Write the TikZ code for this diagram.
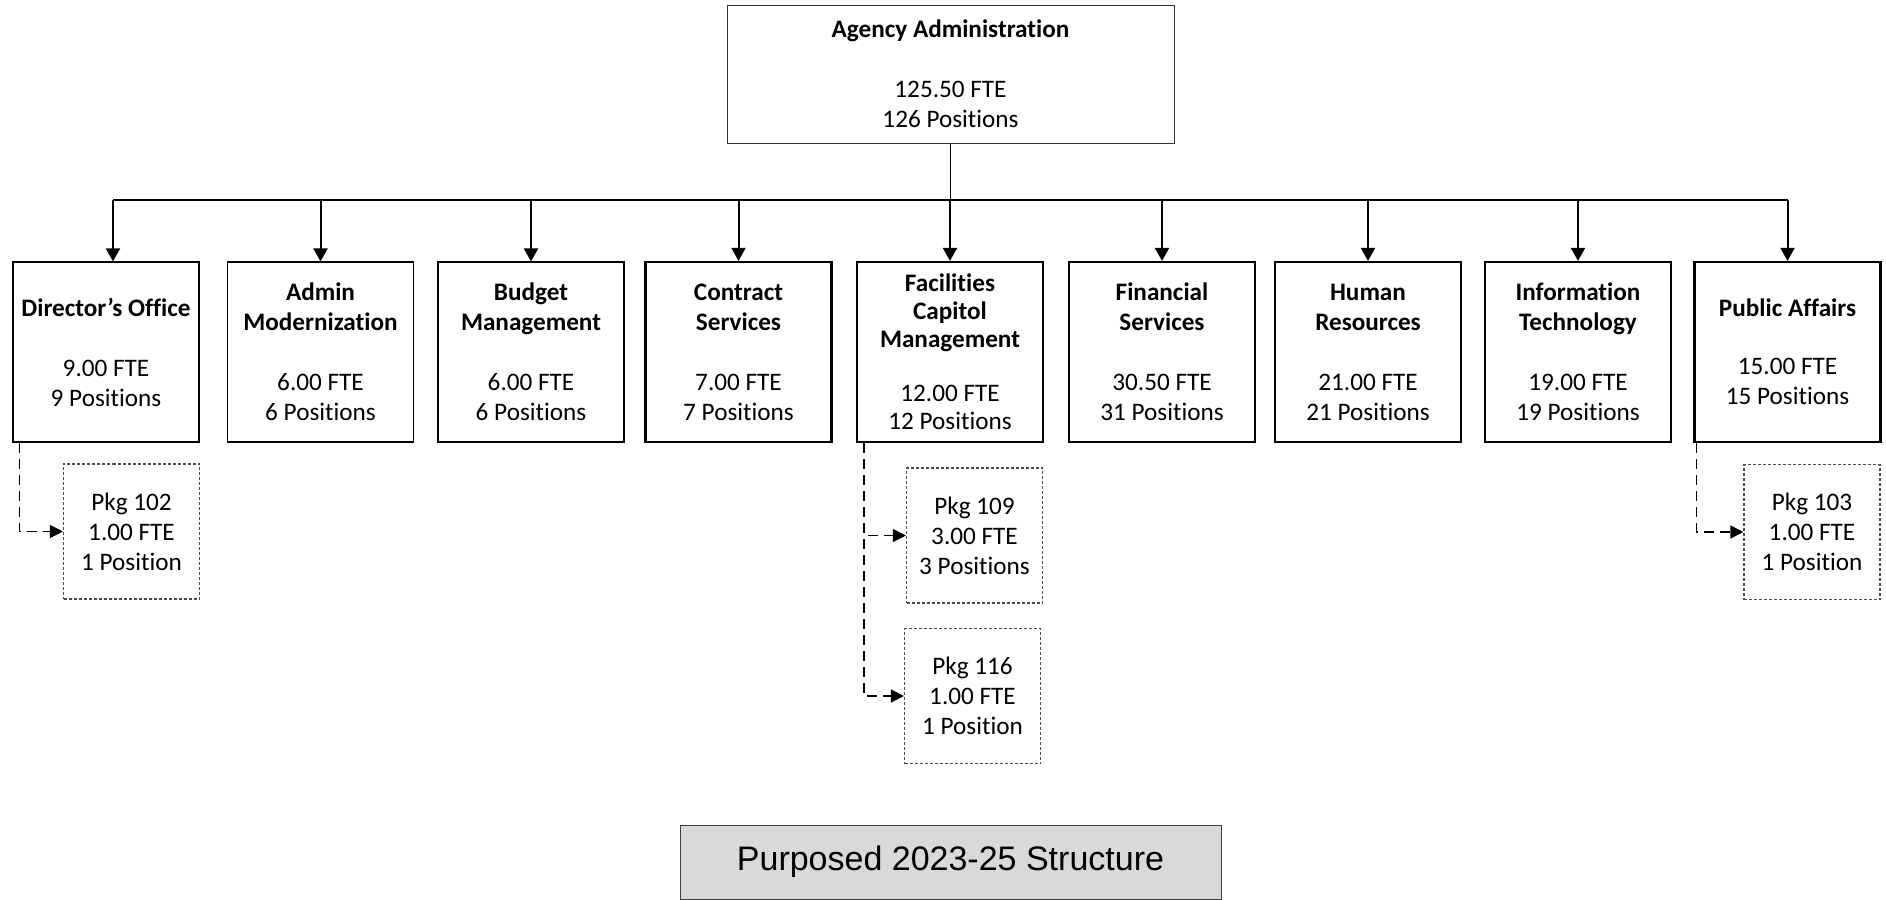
\documentclass[tikz,border=0pt]{standalone}
\usepackage{fontspec}
\setmainfont{Carlito}[Ligatures=CommonOff]
\newfontfamily\titlefont{Liberation Sans}
\usepackage{tikz}
\usetikzlibrary{arrows.meta}

\begin{document}
\begin{tikzpicture}[x=0.5pt, y=-0.5pt,
    every node/.style={font=\fontsize{12.6}{15}\selectfont, align=center, inner sep=0pt},
    unitbox/.style={draw, minimum width=93pt, minimum height=90pt},
    thinbox/.style={unitbox, line width=0.55pt},
    thickbox/.style={unitbox, line width=1.1pt},
    pkgbox/.style={draw=black!70, dash pattern=on 1.5pt off 1pt, line width=0.55pt, minimum width=68pt, minimum height=67.5pt},
    feed/.style={-{Triangle[width=7pt, length=6.5pt]}, line width=1pt},
    pkglink/.style={-{Triangle[width=6.5pt, length=6.5pt]}, line width=0.6pt, dash pattern=on 5pt off 3pt}]
    \useasboundingbox (0, 0) rectangle (1886, 900);

    % Top of the agency
    \node (agency) [draw=black!80, line width=0.5pt, minimum width=223.5pt, minimum height=69pt] at (950.5, 74) {\textbf{Agency Administration}\\[15pt]125.50 FTE\\126 Positions};

    % Sections
    \node (dir) [thinbox] at (106, 352) {\textbf{Director’s Office}\\[15pt]9.00 FTE\\9 Positions};
    \node (admin) [thinbox] at (320.5, 352) {\textbf{Admin}\\\textbf{Modernization}\\[15pt]6.00 FTE\\6 Positions};
    \node (budget) [thinbox] at (531, 352) {\textbf{Budget}\\\textbf{Management}\\[15pt]6.00 FTE\\6 Positions};
    \node (contract) [thickbox] at (738.5, 352) {\textbf{Contract}\\\textbf{Services}\\[15pt]7.00 FTE\\7 Positions};
    \node (facil) [thickbox, font=\fontsize{12.6}{14}\selectfont] at (950, 352) {\textbf{Facilities}\\\textbf{Capitol}\\\textbf{Management}\\[13pt]12.00 FTE\\12 Positions};
    \node (finan) [thickbox] at (1162, 352) {\textbf{Financial}\\\textbf{Services}\\[15pt]30.50 FTE\\31 Positions};
    \node (hr) [thickbox] at (1368, 352) {\textbf{Human}\\\textbf{Resources}\\[15pt]21.00 FTE\\21 Positions};
    \node (it) [thickbox] at (1578, 352) {\textbf{Information}\\\textbf{Technology}\\[15pt]19.00 FTE\\19 Positions};
    \node (pub) [thickbox] at (1787.5, 352) {\textbf{Public Affairs}\\[14pt]15.00 FTE\\15 Positions};

    % Packages
    \node (pkg102) [pkgbox] at (131.5, 531.5) {Pkg 102\\1.00 FTE\\1 Position};
    \node (pkg109) [pkgbox] at (974.5, 535.5) {Pkg 109\\3.00 FTE\\3 Positions};
    \node (pkg116) [pkgbox] at (972.5, 696) {Pkg 116\\1.00 FTE\\1 Position};
    \node (pkg103) [pkgbox] at (1812, 532) {Pkg 103\\1.00 FTE\\1 Position};

    % Bus from the top box
    \coordinate (bus) at (950.5, 200);
    \coordinate (dirtop) at ([xshift=3.5pt]dir.north);
    \draw[line width=0.8pt] (agency.south) -- (bus);
    \draw[line width=1pt] (dirtop |- bus) -- (pub.north |- bus);
    \draw[feed] (dirtop |- bus) -- (dirtop);
    \foreach \n in {admin, budget, contract, facil, finan, hr, it, pub}
        \draw[feed] (\n.north |- bus) -- (\n.north);

    % Package links
    \coordinate (dirleg) at ([xshift=3.5pt]dir.south west);
    \coordinate (facleg) at ([xshift=4pt]facil.south west);
    \coordinate (publeg) at ([xshift=1.5pt]pub.south west);
    \draw[pkglink] (dirleg) |- (pkg102.west);
    \draw[pkglink] (facleg) |- (pkg109.west);
    \draw[pkglink] (facleg) |- (pkg116.west);
    \draw[pkglink] (publeg) |- (pkg103.west);

    % Caption
    \node (title) [draw=black!75, fill=black!15, line width=0.5pt, minimum width=270.5pt, minimum height=37pt, font=\titlefont\fontsize{17}{20}\selectfont] at (950.5, 862) {Purposed 2023-25 Structure};

\end{tikzpicture}
\end{document}
